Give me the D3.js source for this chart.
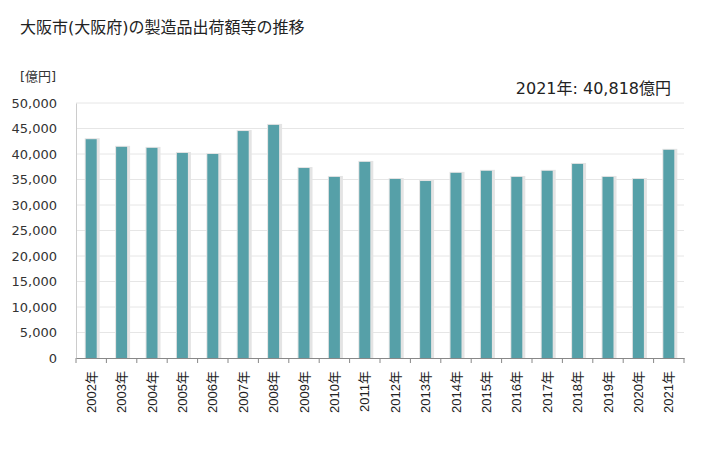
<!DOCTYPE html>
<html><head><meta charset="utf-8">
<script src="https://cdn.jsdelivr.net/npm/d3@7/dist/d3.min.js"></script>
<style>
body{margin:0;background:#fff;}
svg{display:block;font-family:"DejaVu Sans","Noto Sans CJK JP",sans-serif;}
</style></head>
<body><svg id="c" width="728" height="450"></svg>
<script>
const years = ["2002年","2003年","2004年","2005年","2006年","2007年","2008年","2009年","2010年","2011年","2012年","2013年","2014年","2015年","2016年","2017年","2018年","2019年","2020年","2021年"];
const values = [42900,41400,41200,40200,40000,44500,45700,37250,35500,38450,35100,34700,36300,36700,35500,36700,38050,35500,35100,40818];
const yTicks = [0,5000,10000,15000,20000,25000,30000,35000,40000,45000,50000];
const title = "大阪市(大阪府)の製造品出荷額等の推移";
const unitLabel = "[億円]";
const annotation = "2021年: 40,818億円";

const svg = d3.select("#c");
const L = 76, R = 684, T = 103, B = 358;
const x = d3.scaleBand().domain(years).range([L, R]).paddingInner(0).paddingOuter(0);
const y = d3.scaleLinear().domain([0, 50000]).range([B, T]);

svg.append("text").attr("x", 20).attr("y", 33).attr("font-size", 16).attr("fill", "#222").text(title);
svg.append("text").attr("x", 20).attr("y", 81).attr("font-size", 13).attr("fill", "#333").text(unitLabel);
svg.append("text").attr("x", 671).attr("y", 94).attr("text-anchor", "end").attr("font-size", 16).attr("fill", "#222").text(annotation);

// grid
svg.append("g").selectAll("line").data(yTicks.filter(d => d > 0)).join("line")
  .attr("x1", L).attr("x2", R).attr("y1", d => y(d)).attr("y2", d => y(d))
  .attr("stroke", "#e6e6e6").attr("stroke-width", 1);

// y axis
const ya = svg.append("g").attr("transform", `translate(${L},0)`)
  .call(d3.axisLeft(y).tickValues(yTicks).tickSize(0).tickPadding(19).tickFormat(d3.format(",")));
ya.select(".domain").attr("stroke", "#ccc");
ya.selectAll("text").attr("font-size", 13).attr("fill", "#333").attr("font-family", "DejaVu Sans, sans-serif");

// bars
const bw = 11;
const g = svg.append("g");
g.selectAll("rect.sh").data(values).join("rect").attr("class", "sh")
  .attr("x", (d, i) => x(years[i]) + x.bandwidth() / 2 - bw / 2 - 1)
  .attr("y", d => y(d) - 1)
  .attr("width", bw + 4).attr("height", d => B - y(d) + 1)
  .attr("fill", "#e4e4e4");
g.selectAll("rect.b").data(values).join("rect").attr("class", "b")
  .attr("x", (d, i) => x(years[i]) + x.bandwidth() / 2 - bw / 2)
  .attr("y", d => y(d))
  .attr("width", bw).attr("height", d => B - y(d))
  .attr("fill", "#56a0a8");

// x axis
const xa = svg.append("g").attr("transform", `translate(0,${B})`)
  .call(d3.axisBottom(x).tickSize(0).tickPadding(0));
xa.select(".domain").attr("stroke", "#888");
xa.selectAll(".tick text")
  .attr("font-size", 13).attr("fill", "#222")
  .attr("font-family", "Liberation Sans, Noto Sans CJK JP, sans-serif")
  .attr("text-anchor", "end")
  .attr("transform", "rotate(-90)")
  .attr("x", -13).attr("y", 0).attr("dy", "0.35em");
const edges = years.map(d => x(d)).concat([R]);
svg.append("g").selectAll("line").data(edges).join("line")
  .attr("x1", d => d).attr("x2", d => d).attr("y1", B).attr("y2", B + 5)
  .attr("stroke", "#888");
</script></body></html>
